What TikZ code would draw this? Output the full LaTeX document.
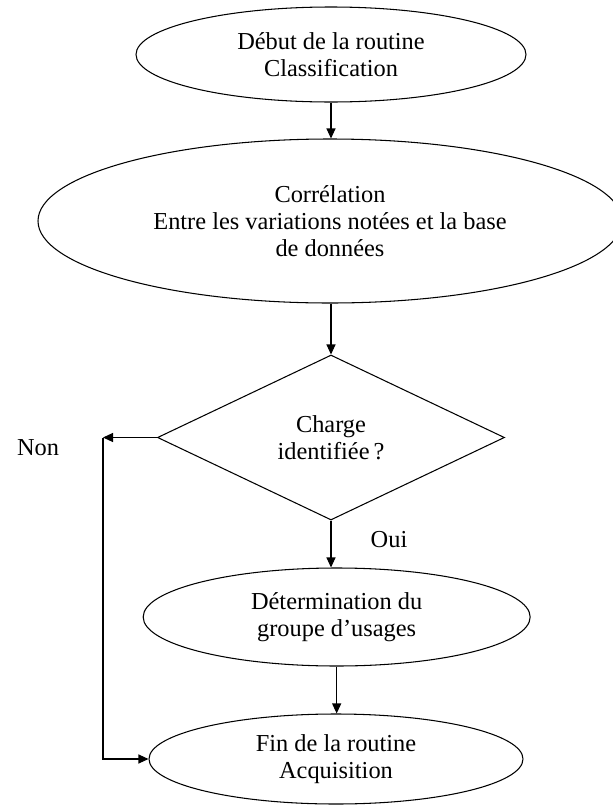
\documentclass[tikz,border=0pt]{standalone}
\usepackage{fontspec}
\setmainfont{Liberation Serif}
\usetikzlibrary{positioning,shapes.geometric,arrows.meta}
\tikzset{
  bulle/.style={draw, ellipse, inner sep=0pt, align=center},
  losange/.style={draw, diamond, inner sep=0pt, align=center},
  fl/.style={-{Triangle[length=3mm, width=2.7mm]}}}

\begin{document}
\begin{tikzpicture}[line width=0.9pt, font=\fontsize{20.8}{23}\selectfont]
\useasboundingbox (0,0) rectangle (18.39,-24.21);
\node[bulle, minimum width=11.7cm, minimum height=2.85cm] (deb) at (9.93,-1.635) {Début de la routine\\Classification};
\node[bulle, minimum width=17.52cm, minimum height=4.92cm] (corr) at (9.9,-6.63) {Corrélation\\Entre les variations notées et la base\\de données};
\node[losange, minimum width=10.41cm, minimum height=4.95cm] (chg) at (9.93,-13.125) {Charge\\identifiée\,?};
\node[bulle, minimum width=11.61cm, minimum height=2.94cm] (grp) at (10.1,-18.51) {Détermination du\\groupe d’usages};
\node[bulle, minimum width=11.22cm, minimum height=2.7cm] (fin) at (10.08,-22.77) {Fin de la routine\\Acquisition};
\coordinate (coin) at (3.09,-13.125);
\node (non) at (1.14,-13.44) {Non};
\node (oui) at (11.67,-16.2) {Oui};
% liaisons
\draw[fl] (deb.south) -- (deb.south |- corr.north);
\draw[fl] (corr.south -| chg.north) -- (chg.north);
\draw[fl] (chg.south) -- (chg.south |- grp.north);
\draw[fl] (grp.south) -- (grp.south |- fin.north);
\draw[fl] (chg.west) -- (coin);
\draw[fl] (coin) |- (fin.west);
\end{tikzpicture}
\end{document}
